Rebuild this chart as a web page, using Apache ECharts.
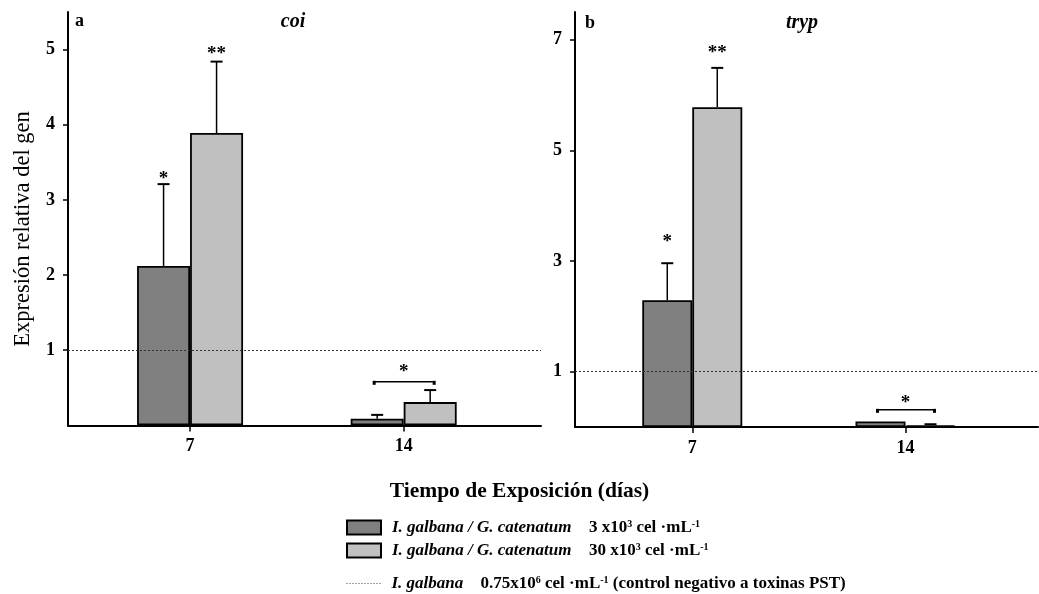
<!DOCTYPE html>
<html>
<head>
<meta charset="utf-8">
<script src="https://cdn.jsdelivr.net/npm/echarts@6/dist/echarts.min.js"></script>
<style>
  html, body { margin: 0; padding: 0; background: #fff; }
  #chart { width: 1039px; height: 594px; }
</style>
</head>
<body>
<div id="chart"></div>
<script>
// Exposure time (days) and relative gene expression for the two treatments
const days = [7, 14];
const dayTicks = [7, 14];

const coiLow = [2.12, 0.09];
const coiLowErr = [1.09, 0.05];
const coiHigh = [3.89, 0.31];
const coiHighErr = [0.95, 0.16];

const trypLow = [2.29, 0.10];
const trypLowErr = [0.67, 0];
const trypHigh = [5.78, 0.03];
const trypHighErr = [0.71, 0.02];

const coiTicks = [1, 2, 3, 4, 5];
const trypTicks = [1, 3, 5, 7];

const controlLevel = 1;

// significance marks: [day, placement, value, text]
const coiSig = [[7, 'low', 3.35, '*'], [7, 'high', 5.0, '**'], [14, 'pair', 0.78, '*']];
const trypSig = [[7, 'low', 3.44, '*'], [7, 'high', 6.85, '**'], [14, 'pair', 0.52, '*']];
// comparison brackets: [day, value]
const coiBrackets = [[14, 0.58]];
const trypBrackets = [[14, 0.31]];

const nameLow = 'I. galbana / G. catenatum 3x10^3';
const nameHigh = 'I. galbana / G. catenatum 30x10^3';
const nameCtrl = 'I. galbana 0.75x10^6';

const SERIF = '"Liberation Serif", "Times New Roman", serif';
const DARK = '#808080';
const LIGHT = '#c0c0c0';

const panels = [
  { low: coiLow, lowErr: coiLowErr, high: coiHigh, highErr: coiHighErr,
    sig: coiSig, brackets: coiBrackets, barW: 53 },
  { low: trypLow, lowErr: trypLowErr, high: trypHigh, highErr: trypHighErr,
    sig: trypSig, brackets: trypBrackets, barW: 50 }
];

function pairs(xs, ys) { return xs.map((x, i) => [x, ys[i]]); }

function offsetFor(place, barW) {
  if (place === 'low') return -barW / 2;
  if (place === 'high') return barW / 2;
  return 0;
}

const series = [];
panels.forEach((p, gi) => {
  series.push({
    name: nameLow, type: 'bar', xAxisIndex: gi, yAxisIndex: gi,
    data: pairs(days, p.low), barWidth: p.barW, barGap: '0%',
    itemStyle: { color: DARK, borderColor: '#000', borderWidth: 1.8 },
    z: 3
  });
  series.push({
    name: nameHigh, type: 'bar', xAxisIndex: gi, yAxisIndex: gi,
    data: pairs(days, p.high), barWidth: p.barW, barGap: '0%',
    itemStyle: { color: LIGHT, borderColor: '#000', borderWidth: 1.8 },
    z: 3
  });
  // negative control reference line
  series.push({
    name: nameCtrl, type: 'line', xAxisIndex: gi, yAxisIndex: gi,
    data: [], symbol: 'none',
    itemStyle: { opacity: 0 },
    lineStyle: { color: '#333', width: 1, type: [2, 2] },
    markLine: {
      silent: true, symbol: 'none', label: { show: false },
      lineStyle: { color: '#333', width: 1, type: [2, 2] },
      data: [{ yAxis: controlLevel }]
    },
    z: 2
  });
  // upper error bars
  const errData = [];
  days.forEach((d, i) => {
    if (p.lowErr[i] > 0) errData.push([d, p.low[i], p.lowErr[i], -1]);
    if (p.highErr[i] > 0) errData.push([d, p.high[i], p.highErr[i], 1]);
  });
  series.push({
    type: 'custom', xAxisIndex: gi, yAxisIndex: gi, data: errData, z: 4,
    renderItem: (params, api) => {
      const dx = api.value(3) * p.barW / 2;
      const base = api.coord([api.value(0), api.value(1)]);
      const top = api.coord([api.value(0), api.value(1) + api.value(2)]);
      const x = base[0] + dx;
      return {
        type: 'group',
        children: [
          { type: 'line', shape: { x1: x, y1: base[1], x2: x, y2: top[1] },
            style: { stroke: '#000', lineWidth: 1.5 } },
          { type: 'line', shape: { x1: x - 6, y1: top[1], x2: x + 6, y2: top[1] },
            style: { stroke: '#000', lineWidth: 2 } }
        ]
      };
    }
  });
  // brackets between the two treatments
  series.push({
    type: 'custom', xAxisIndex: gi, yAxisIndex: gi, data: p.brackets, z: 4,
    renderItem: (params, api) => {
      const c = api.coord([api.value(0), api.value(1)]);
      const x1 = c[0] - p.barW / 2 - 3, x2 = c[0] + p.barW / 2 + 4, y = c[1];
      return {
        type: 'group',
        children: [
          { type: 'line', shape: { x1: x1, y1: y, x2: x2, y2: y },
            style: { stroke: '#000', lineWidth: 1.5 } },
          { type: 'line', shape: { x1: x1, y1: y - 1, x2: x1, y2: y + 3 },
            style: { stroke: '#000', lineWidth: 3 } },
          { type: 'line', shape: { x1: x2, y1: y - 1, x2: x2, y2: y + 3 },
            style: { stroke: '#000', lineWidth: 3 } }
        ]
      };
    }
  });
  // asterisks
  series.push({
    type: 'custom', xAxisIndex: gi, yAxisIndex: gi, data: p.sig.map(s => [s[0], s[2]]), z: 5,
    renderItem: (params, api) => {
      const s = p.sig[params.dataIndex];
      const c = api.coord([s[0], s[2]]);
      return {
        type: 'text', x: c[0] + offsetFor(s[1], p.barW), y: c[1] + 5,
        style: { text: s[3], font: 'bold 19px ' + SERIF, fill: '#000',
                 textAlign: 'center', textVerticalAlign: 'middle' }
      };
    }
  });
});

const axisLineStyle = { show: true, onZero: false, lineStyle: { color: '#000', width: 2 } };
const tickLabelStyle = { color: '#000', fontFamily: SERIF, fontWeight: 'bold', fontSize: 18 };

function yAxisFor(gi, max, ticks) {
  return {
    type: 'value', gridIndex: gi, min: 0, max: max,
    axisLine: axisLineStyle,
    splitLine: { show: false },
    axisTick: { show: true, length: 5, lineStyle: { color: '#000', width: 1.5 }, customValues: ticks },
    axisLabel: Object.assign({ margin: 13, customValues: ticks }, tickLabelStyle)
  };
}
function xAxisFor(gi, min, max) {
  return {
    type: 'value', gridIndex: gi, min: min, max: max,
    axisLine: axisLineStyle,
    splitLine: { show: false },
    axisTick: { show: true, length: 6, lineStyle: { color: '#000', width: 1.5 }, customValues: dayTicks },
    axisLabel: Object.assign({ margin: 12, customValues: dayTicks }, tickLabelStyle)
  };
}

const LF = 17;
const richBase = {
  g: { width: 6 },
  i: { fontFamily: SERIF, fontStyle: 'italic', fontWeight: 'bold', fontSize: LF, color: '#000', width: 197 },
  i2: { fontFamily: SERIF, fontStyle: 'italic', fontWeight: 'bold', fontSize: LF, color: '#000', width: 89 },
  n: { fontFamily: SERIF, fontWeight: 'bold', fontSize: LF, color: '#000' },
  s: { fontFamily: SERIF, fontWeight: 'bold', fontSize: 10, color: '#000', verticalAlign: 'top' }
};

const legendText = {};
legendText[nameLow] = '{g|}{i|I. galbana / G. catenatum}{n|3 x10}{s|3}{n| cel ·mL}{s|-1}';
legendText[nameHigh] = '{g|}{i|I. galbana / G. catenatum}{n|30 x10}{s|3}{n| cel ·mL}{s|-1}';
legendText[nameCtrl] = '{g|}{i2|I. galbana}{n|0.75x10}{s|6}{n| cel ·mL}{s|-1}{n| (control negativo a toxinas PST)}';

const option = {
  animation: false,
  backgroundColor: '#fff',
  grid: [
    { left: 68, right: 498, top: 12, bottom: 168.6 },
    { left: 575, right: 1, top: 12, bottom: 167 }
  ],
  xAxis: [xAxisFor(0, 3, 18.5), xAxisFor(1, 3.15, 18.35)],
  yAxis: [yAxisFor(0, 5.5, coiTicks), yAxisFor(1, 7.5, trypTicks)],
  legend: [
    {
      data: [{ name: nameLow, icon: 'rect' }, { name: nameHigh, icon: 'rect' }],
      orient: 'vertical', left: 341, top: 514,
      itemWidth: 34, itemHeight: 14, itemGap: 6, selectedMode: false,
      formatter: n => legendText[n],
      textStyle: { rich: richBase }
    },
    {
      data: [nameCtrl], orient: 'vertical', left: 341, top: 570,
      itemWidth: 34, itemHeight: 14, selectedMode: false,
      itemStyle: { opacity: 0 },
      lineStyle: { color: '#444', width: 1, type: [1, 2] },
      formatter: n => legendText[n],
      textStyle: { rich: richBase }
    }
  ],
  title: {
    text: 'Tiempo de Exposición (días)', left: 'center', top: 475,
    textStyle: { fontFamily: SERIF, fontWeight: 'bold', fontSize: 21.5, color: '#000' }
  },
  graphic: [
    { type: 'text', x: 23, y: 229, rotation: Math.PI / 2,
      style: { text: 'Expresión relativa del gen', font: '22.5px ' + SERIF, fill: '#000',
               textAlign: 'center', textVerticalAlign: 'middle' } },
    { type: 'text', x: 75, y: 21,
      style: { text: 'a', font: 'bold 18px ' + SERIF, fill: '#000', textVerticalAlign: 'middle' } },
    { type: 'text', x: 293, y: 22,
      style: { text: 'coi', font: 'italic bold 20px ' + SERIF, fill: '#000', textAlign: 'center', textVerticalAlign: 'middle' } },
    { type: 'text', x: 585, y: 23,
      style: { text: 'b', font: 'bold 18px ' + SERIF, fill: '#000', textVerticalAlign: 'middle' } },
    { type: 'text', x: 802, y: 23,
      style: { text: 'tryp', font: 'italic bold 20px ' + SERIF, fill: '#000', textAlign: 'center', textVerticalAlign: 'middle' } }
  ],
  series: series
};

const chart = echarts.init(document.getElementById('chart'), null, { renderer: 'canvas' });
chart.setOption(option);
</script>
</body>
</html>
